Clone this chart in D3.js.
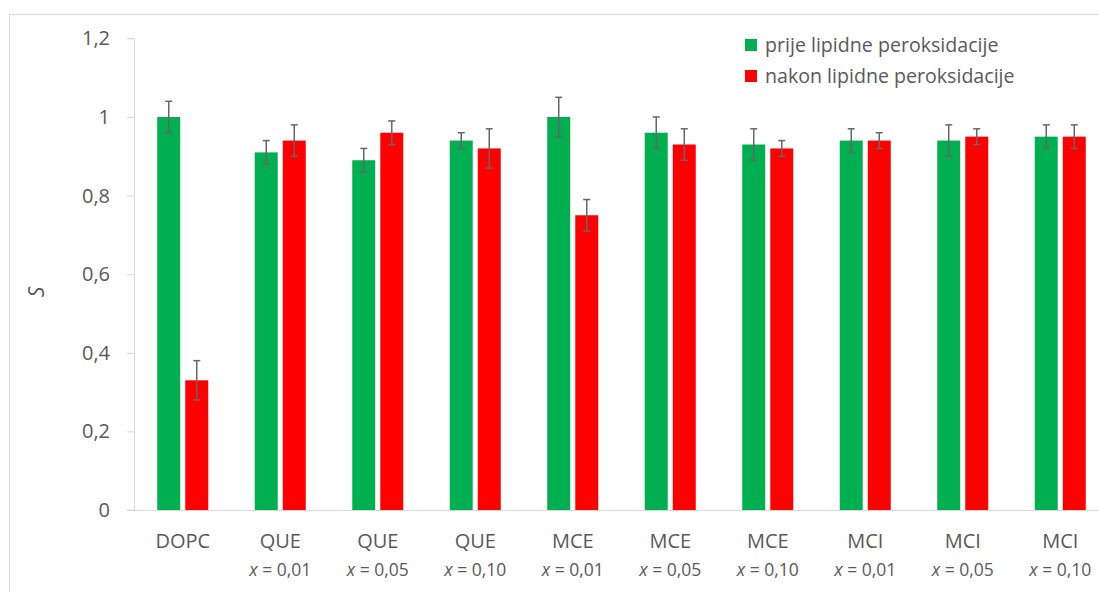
<!DOCTYPE html>
<html>
<head>
<meta charset="utf-8">
<script src="https://cdn.jsdelivr.net/npm/d3@7"></script>
<style>
  body { margin: 0; background: #fff; }
  text { font-family: "Open Sans", sans-serif; fill: #595959; }
</style>
</head>
<body>
<div id="wrapper"></div>
<script>
// data
const categories = ["DOPC", "QUE", "QUE", "QUE", "MCE", "MCE", "MCE", "MCI", "MCI", "MCI"];
const subLabels = ["", "0,01", "0,05", "0,10", "0,01", "0,05", "0,10", "0,01", "0,05", "0,10"];
const seriesNames = ["prije lipidne peroksidacije", "nakon lipidne peroksidacije"];
const seriesColors = ["#00b050", "#ff0000"];
const prije = [1.00, 0.91, 0.89, 0.94, 1.00, 0.96, 0.93, 0.94, 0.94, 0.95];
const prijeErr = [0.04, 0.03, 0.03, 0.02, 0.05, 0.04, 0.04, 0.03, 0.04, 0.03];
const nakon = [0.33, 0.94, 0.96, 0.92, 0.75, 0.93, 0.92, 0.94, 0.95, 0.95];
const nakonErr = [0.05, 0.04, 0.03, 0.05, 0.04, 0.04, 0.02, 0.02, 0.02, 0.03];
const yTicks = [0, 0.2, 0.4, 0.6, 0.8, 1, 1.2];

const width = 1099, height = 592;

const svg = d3.select("#wrapper").append("svg")
  .attr("width", width)
  .attr("height", height);

// outer chart frame
svg.append("rect")
  .attr("x", 9.5).attr("y", 14.5)
  .attr("width", 1100).attr("height", 600)
  .attr("fill", "none")
  .attr("stroke", "#d9d9d9");

const plotLeft = 134, plotRight = 1109, plotTop = 38.4, plotBottom = 510;

const keys = categories.map((c, i) => i);
const x0 = d3.scaleBand().domain(keys).range([plotLeft, plotRight]).padding(0);
const groupW = 51;
const x1 = d3.scaleBand().domain([0, 1]).range([0, groupW]).paddingInner(0.18).paddingOuter(0);
const y = d3.scaleLinear().domain([0, 1.2]).range([plotBottom, plotTop]);

// y axis
const yAxis = svg.append("g")
  .attr("transform", `translate(${plotLeft},0)`)
  .call(d3.axisLeft(y).tickValues(yTicks).tickSize(7).tickPadding(17)
    .tickFormat(d => d3.format("~g")(d).replace(".", ",")));
yAxis.selectAll("line, path").attr("stroke", "#d9d9d9");
yAxis.select(".domain").attr("d", `M-7,${y(1.2)}H0.5V${plotBottom}H-7`);
yAxis.selectAll("text").style("font-size", "20px").attr("fill", "#595959");

// x axis line
svg.append("line")
  .attr("x1", plotLeft).attr("x2", width)
  .attr("y1", plotBottom + 0.5).attr("y2", plotBottom + 0.5)
  .attr("stroke", "#d9d9d9");

// bars
const rows = keys.map(i => ({
  i: i,
  vals: [
    { s: 0, v: prije[i], e: prijeErr[i] },
    { s: 1, v: nakon[i], e: nakonErr[i] }
  ]
}));

const groups = svg.selectAll(".grp")
  .data(rows)
  .enter().append("g")
  .attr("class", "grp")
  .attr("transform", d => `translate(${x0(d.i) + (x0.bandwidth() - groupW) / 2},0)`);

groups.selectAll("rect")
  .data(d => d.vals)
  .enter().append("rect")
  .attr("x", d => x1(d.s))
  .attr("y", d => y(d.v))
  .attr("width", x1.bandwidth())
  .attr("height", d => y(0) - y(d.v))
  .attr("fill", d => seriesColors[d.s]);

// error bars
const errG = groups.selectAll(".err")
  .data(d => d.vals)
  .enter().append("g")
  .attr("class", "err")
  .attr("stroke", "#666")
  .attr("stroke-width", 1.5);
errG.append("line")
  .attr("x1", d => x1(d.s) + x1.bandwidth() / 2)
  .attr("x2", d => x1(d.s) + x1.bandwidth() / 2)
  .attr("y1", d => y(d.v + d.e))
  .attr("y2", d => y(d.v - d.e));
errG.append("line")
  .attr("x1", d => x1(d.s) + x1.bandwidth() / 2 - 3.5)
  .attr("x2", d => x1(d.s) + x1.bandwidth() / 2 + 3.5)
  .attr("y1", d => y(d.v + d.e))
  .attr("y2", d => y(d.v + d.e));
errG.append("line")
  .attr("x1", d => x1(d.s) + x1.bandwidth() / 2 - 3.5)
  .attr("x2", d => x1(d.s) + x1.bandwidth() / 2 + 3.5)
  .attr("y1", d => y(d.v - d.e))
  .attr("y2", d => y(d.v - d.e));

// category labels
const labels = svg.selectAll(".catLbl")
  .data(keys)
  .enter().append("text")
  .attr("class", "catLbl")
  .attr("text-anchor", "middle")
  .attr("x", d => x0(d) + x0.bandwidth() / 2);
labels.append("tspan")
  .attr("x", d => x0(d) + x0.bandwidth() / 2)
  .attr("y", 548)
  .style("font-size", "20px")
  .text(d => categories[d]);
const sub = labels.filter(d => subLabels[d] !== "")
  .append("tspan")
  .attr("x", d => x0(d) + x0.bandwidth() / 2)
  .attr("y", 576)
  .style("font-size", "17.5px");
sub.append("tspan").style("font-style", "italic").text("x");
sub.append("tspan").text(d => " = " + subLabels[d]);

// y title
svg.append("text")
  .attr("transform", "translate(44,292) rotate(-90)")
  .attr("text-anchor", "middle")
  .style("font-size", "21px")
  .style("font-style", "italic")
  .text("S");

// legend
const legend = svg.selectAll(".leg")
  .data(seriesNames)
  .enter().append("g")
  .attr("class", "leg")
  .attr("transform", (d, i) => `translate(745,${39 + i * 31})`);
legend.append("rect")
  .attr("width", 12).attr("height", 12)
  .attr("fill", (d, i) => seriesColors[i]);
legend.append("text")
  .attr("x", 20).attr("y", 13)
  .style("font-size", "19.6px")
  .text(d => d);
</script>
</body>
</html>
